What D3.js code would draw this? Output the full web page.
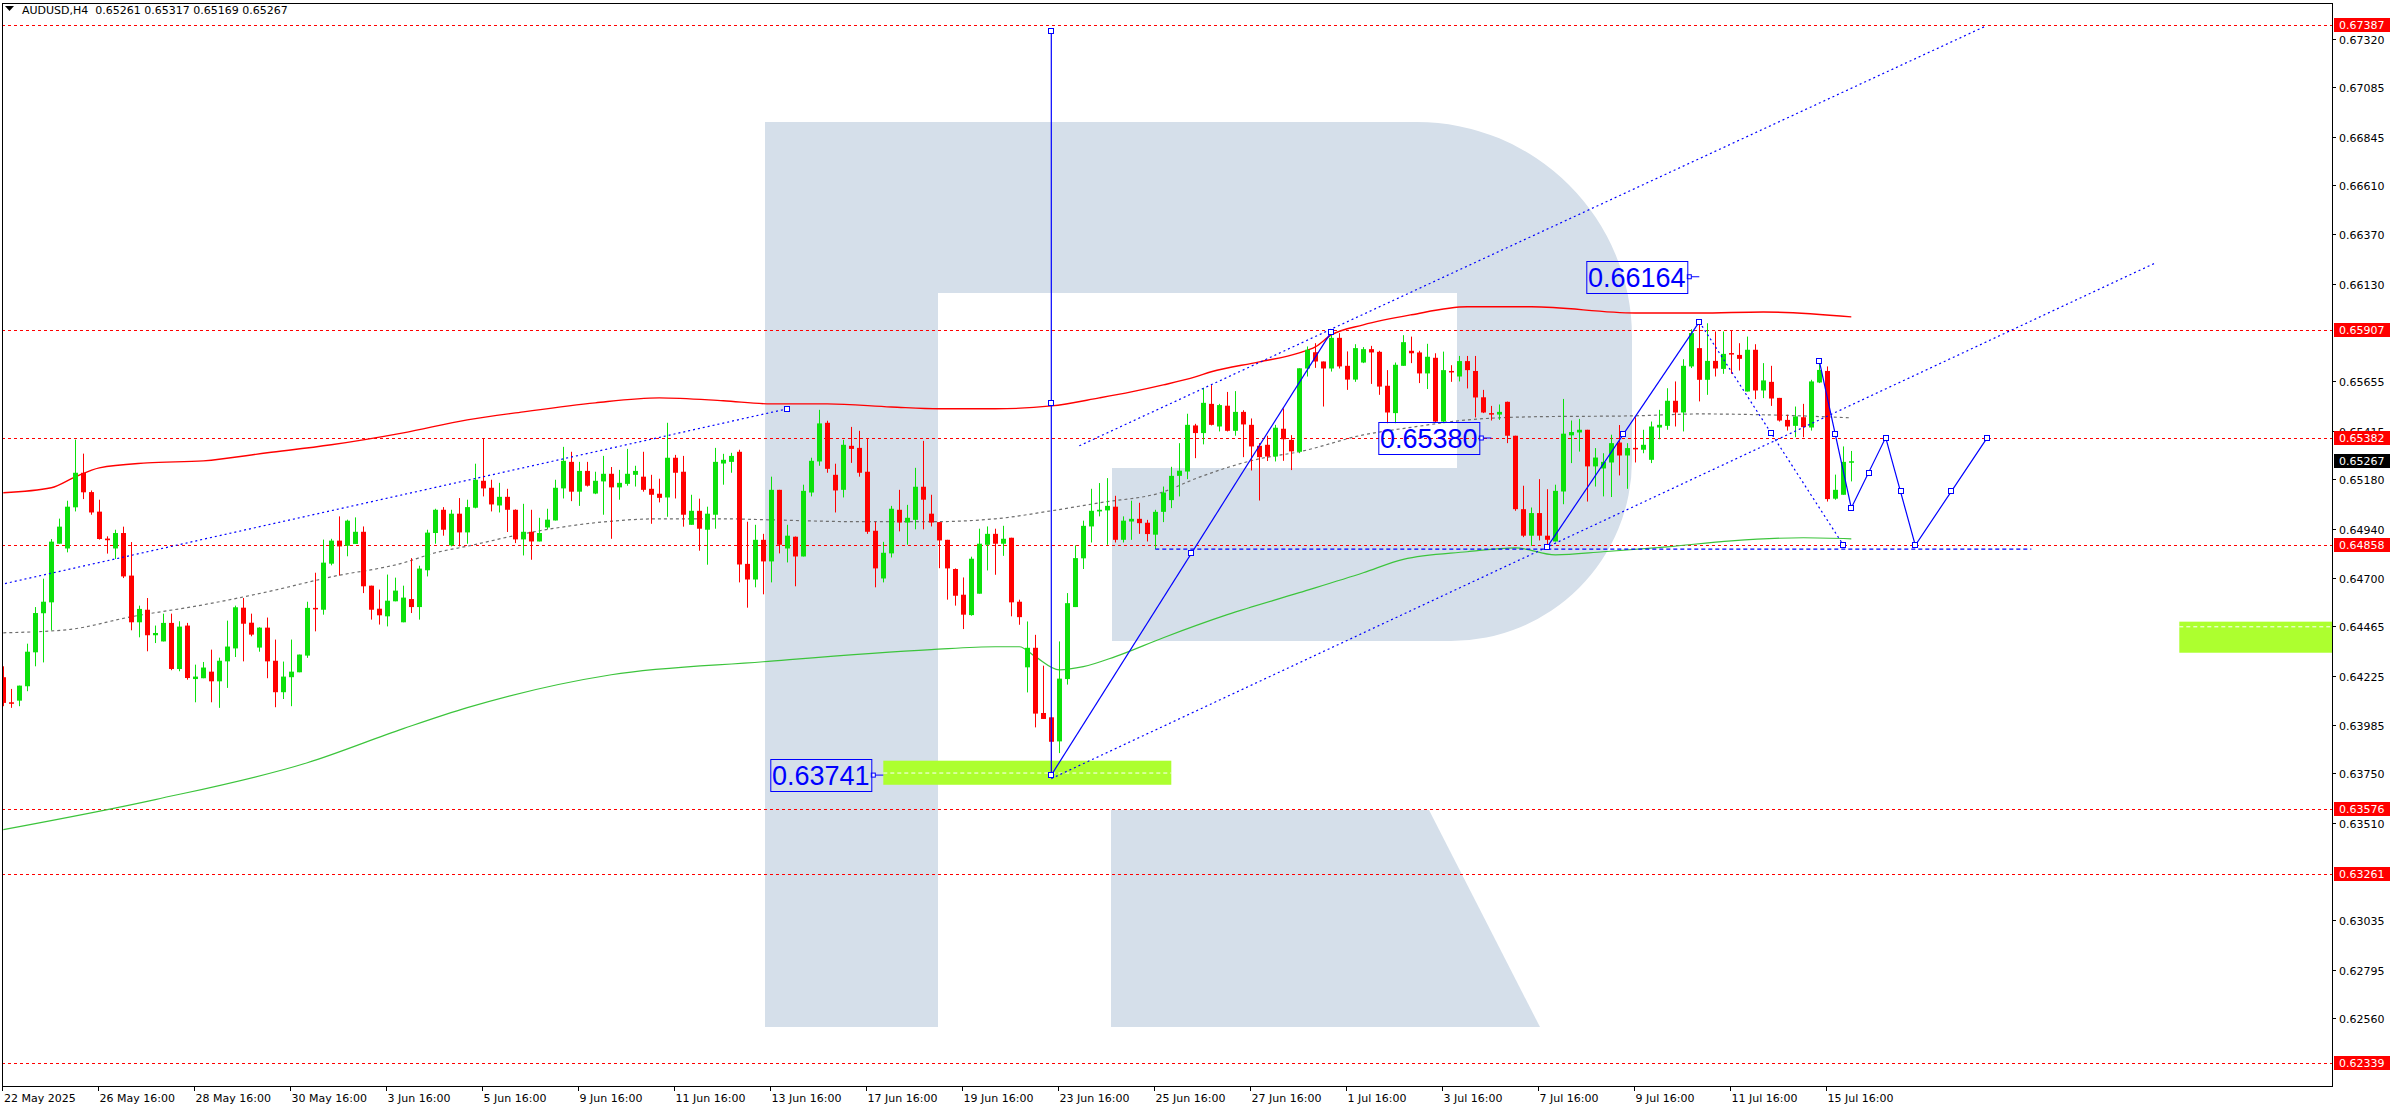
<!DOCTYPE html>
<html><head><meta charset="utf-8">
<script src="https://cdn.jsdelivr.net/npm/d3@7"></script>
<style>html,body{margin:0;padding:0;background:#fff;overflow:hidden}</style>
</head><body><svg id="c" width="2396" height="1110"></svg>
<script>
// ---------- DATA ----------
const symbolTitle = "AUDUSD,H4  0.65261 0.65317 0.65169 0.65267";
const openP=[.64217,.64095,.64103,.64173,.64338,.64528,.64581,.64866,.64843,.65043,
.65211,.65117,.65022,.64891,.64843,.64918,.64711,.64484,.64545,.64421,
.64391,.64481,.64257,.64468,.64208,.64212,.64244,.64197,.64294,.64357,
.64555,.64482,.64361,.64458,.64297,.64144,.64217,.64241,.64322,.64554,
.64545,.64769,.64881,.64856,.64865,.64924,.64662,.64550,.64513,.64586,
.64484,.64597,.64558,.64737,.64918,.65031,.64858,.65012,.64921,.65041,
.65172,.65138,.65052,.65094,.65031,.64887,.64924,.64877,.64945,.64979,
.65135,.65264,.65119,.65220,.65110,.65169,.65206,.65140,.65157,.65201,
.65192,.65133,.65109,.65091,.65284,.65216,.64958,.65026,.64934,.65007,
.65256,.65264,.65313,.64768,.64692,.64885,.64780,.65128,.64843,.64900,
.64804,.65115,.65266,.65454,.65201,.65128,.65342,.65332,.65216,.64929,
.64697,.64819,.65031,.64969,.64982,.65143,.65012,.64971,.64885,.64743,
.64618,.64519,.64623,.64861,.64914,.64866,.64895,.64584,.64265,.64360,
.64043,.64022,.63905,.64208,.64558,.64795,.64950,.65023,.65028,.65046,
.64885,.64974,.64987,.64968,.64910,.65021,.65078,.65196,.65217,.65441,
.65404,.65546,.65436,.65537,.65415,.65507,.65444,.65342,.65347,.65290,
.65425,.65371,.65313,.65718,.65797,.65752,.65718,.65867,.65731,.65664,
.65747,.65812,.65799,.65634,.65501,.65731,.65804,.65796,.65694,.65770,
.65460,.65706,.65679,.65754,.65706,.65578,.65501,.65494,.65556,.65391,
.65034,.64905,.65015,.64905,.64877,.65120,.65393,.65407,.65420,.65242,
.65232,.65261,.65358,.65295,.65332,.65323,.65274,.65431,.65439,.65561,
.65504,.65728,.65817,.65663,.65755,.65716,.65793,.65784,.65606,.65809,
.65611,.65653,.65575,.65468,.65439,.65481,.65431,.65650,.65706,.65085,
.65104,.65261];
const highP=[.64270,.64160,.64176,.64380,.64558,.64696,.64889,.64988,.65075,.65372,
.65304,.65125,.65080,.64902,.64934,.64949,.64874,.64565,.64602,.64468,
.64526,.64526,.64489,.64481,.64278,.64291,.64351,.64312,.64492,.64565,
.64602,.64526,.64460,.64507,.64400,.64293,.64400,.64327,.64584,.64725,
.64886,.64890,.64999,.64983,.64994,.64950,.64662,.64643,.64716,.64701,
.64662,.64796,.64759,.64934,.65036,.65044,.65031,.65088,.65080,.65255,
.65376,.65177,.65162,.65133,.65033,.65060,.65031,.64992,.65036,.65177,
.65337,.65313,.65264,.65264,.65216,.65293,.65239,.65225,.65327,.65245,
.65313,.65201,.65182,.65454,.65298,.65293,.65104,.65085,.65046,.65332,
.65303,.65308,.65323,.64973,.64958,.64914,.65192,.65128,.64958,.64901,
.65153,.65284,.65517,.65464,.65255,.65371,.65434,.65415,.65376,.64973,
.64875,.65050,.65128,.65055,.65235,.65366,.65104,.64971,.64885,.64746,
.64702,.64803,.64939,.64950,.64939,.64953,.64895,.64594,.64488,.64423,
.64273,.64022,.64391,.64626,.64858,.64978,.65133,.65161,.65185,.65099,
.64999,.65075,.65065,.64982,.65031,.65144,.65240,.65355,.65498,.65449,
.65624,.65637,.65546,.65604,.65608,.65515,.65475,.65355,.65391,.65444,
.65524,.65394,.65719,.65825,.65841,.65752,.65898,.65890,.65801,.65836,
.65822,.65828,.65804,.65710,.65747,.65880,.65873,.65804,.65838,.65792,
.65800,.65734,.65779,.65779,.65779,.65614,.65536,.65543,.65557,.65391,
.65148,.65042,.65180,.65131,.65153,.65570,.65465,.65473,.65420,.65331,
.65306,.65396,.65443,.65355,.65481,.65420,.65460,.65517,.65622,.65655,
.65763,.65909,.65940,.65938,.65898,.65898,.65901,.65841,.65873,.65836,
.65744,.65731,.65575,.65493,.65533,.65546,.65663,.65752,.65728,.65202,
.65339,.65317];
const lowP=[.64076,.64068,.64076,.64149,.64270,.64289,.64445,.64866,.64824,.65023,
.65083,.65007,.64886,.64818,.64792,.64699,.64445,.64411,.64343,.64383,
.64391,.64251,.64246,.64205,.64095,.64212,.64095,.64068,.64165,.64315,
.64294,.64416,.64341,.64212,.64071,.64111,.64076,.64241,.64311,.64440,
.64521,.64761,.64711,.64805,.64865,.64626,.64497,.64473,.64464,.64586,
.64484,.64529,.64497,.64707,.64866,.64905,.64853,.64853,.64866,.65038,
.65096,.65023,.65018,.64923,.64869,.64809,.64788,.64877,.64937,.64979,
.65086,.65073,.65050,.65144,.65107,.65007,.64890,.65080,.65148,.65144,
.65119,.64963,.65067,.64997,.65086,.64949,.64958,.64832,.64764,.64939,
.65153,.65211,.64678,.64555,.64654,.64620,.64678,.64819,.64775,.64659,
.64804,.65096,.65245,.65211,.65018,.65091,.65259,.65192,.64914,.64654,
.64678,.64799,.64926,.64861,.64936,.64936,.64950,.64747,.64594,.64565,
.64451,.64516,.64623,.64736,.64715,.64807,.64513,.64472,.64143,.63973,
.64014,.63741,.63848,.64181,.64558,.64743,.64872,.64999,.64861,.64872,
.64872,.64885,.64914,.64877,.64840,.64971,.65039,.65096,.65180,.65282,
.65349,.65441,.65412,.65412,.65391,.65287,.65222,.65076,.65268,.65266,
.65269,.65224,.65306,.65679,.65721,.65533,.65703,.65718,.65614,.65653,
.65744,.65643,.65590,.65452,.65452,.65731,.65744,.65647,.65618,.65455,
.65452,.65653,.65655,.65621,.65480,.65501,.65465,.65468,.65355,.65026,
.64898,.64856,.64882,.64850,.64877,.65058,.65258,.65314,.65071,.65144,
.65096,.65093,.65198,.65133,.65261,.65306,.65258,.65374,.65420,.65436,
.65412,.65720,.65558,.65590,.65679,.65692,.65692,.65708,.65606,.65569,
.65574,.65536,.65460,.65416,.65384,.65384,.65416,.65647,.65071,.65080,
.65104,.65169];
const closeP=[.64092,.64090,.64176,.64341,.64529,.64584,.64876,.64949,.65046,.65211,
.65116,.65018,.64889,.64883,.64918,.64707,.64484,.64549,.64421,.64432,
.64481,.64257,.64463,.64213,.64220,.64264,.64197,.64297,.64366,.64557,
.64477,.64424,.64458,.64294,.64144,.64220,.64244,.64327,.64554,.64547,
.64774,.64881,.64853,.64978,.64924,.64659,.64545,.64518,.64589,.64638,
.64604,.64558,.64745,.64920,.65031,.64934,.65012,.64921,.65044,.65177,
.65135,.65057,.65094,.65031,.64887,.64924,.64877,.64918,.64983,.65138,
.65269,.65119,.65220,.65148,.65172,.65206,.65140,.65162,.65206,.65220,
.65128,.65104,.65089,.65284,.65211,.65007,.65026,.64939,.65012,.65264,
.65274,.65293,.64765,.64692,.64885,.64780,.65128,.64861,.64905,.64804,
.65123,.65269,.65451,.65230,.65125,.65347,.65327,.65211,.64924,.64746,
.64822,.65036,.64969,.64992,.65143,.65080,.64969,.64882,.64746,.64613,
.64521,.64793,.64866,.64914,.64866,.64890,.64581,.64509,.64360,.64040,
.64014,.63903,.64210,.64577,.64796,.64953,.65026,.65031,.65050,.64885,
.64978,.64987,.64966,.64913,.65021,.65115,.65196,.65221,.65444,.65404,
.65551,.65444,.65540,.65415,.65507,.65446,.65339,.65287,.65290,.65430,
.65374,.65315,.65719,.65809,.65752,.65718,.65867,.65728,.65664,.65817,
.65812,.65796,.65630,.65504,.65736,.65846,.65792,.65694,.65775,.65460,
.65710,.65700,.65754,.65710,.65577,.65504,.65496,.65507,.65391,.65034,
.64905,.65015,.64905,.64885,.65123,.65401,.65409,.65420,.65242,.65285,
.65264,.65355,.65295,.65331,.65326,.65347,.65436,.65444,.65561,.65504,
.65731,.65890,.65663,.65755,.65718,.65789,.65786,.65765,.65809,.65611,
.65660,.65572,.65465,.65436,.65485,.65433,.65655,.65711,.65083,.65128,
.65264,.65267];

// moving averages (bar index, price)
const redMaIdx=[0,6,9,12,18,25,33,41,50,58,65,74,82,90,96,103,111,117,124,131,137,141,145,149,151,157,162,164,166,170,176,183,191,204,212,220,231];
const redMaVal=[.65114,.65138,.65191,.65235,.65259,.65269,.65308,.65347,.65405,.65468,.65507,.65551,.65575,.65561,.65546,.65546,.65531,.65522,.65522,.65536,.65575,.65604,.65638,.65677,.65702,.65750,.65794,.65823,.65881,.65930,.65979,.66018,.66018,.65988,.65988,.65993,.65969];
const grayMaIdx=[0,8,16,25,33,41,50,54,58,65,74,82,90,96,107,116,124,131,137,145,149,157,162,170,176,183,191,204,212,220,231];
const grayMaVal=[.64433,.64448,.64511,.64569,.64632,.64705,.64773,.64822,.64854,.64914,.64968,.64987,.64987,.64982,.64973,.64973,.64987,.65026,.65065,.65118,.65182,.65279,.65313,.65395,.65432,.65468,.65483,.65488,.65497,.65493,.65478];
const greenMaIdx=[0,19,38,50,58,76,95,116,124,127,129,132,135,139,145,153,162,170,175,183,189,194,200,208,216,225,231];
const greenMaVal=[.63476,.63622,.63801,.63967,.64069,.64229,.64292,.64351,.64365,.64365,.64317,.64253,.64268,.64317,.64409,.64521,.64628,.64725,.64790,.64827,.64846,.64812,.64827,.64851,.64880,.64895,.64890];

// horizontal levels
const levelValues=[0.67387,0.65907,0.65382,0.64858,0.63576,0.63261,0.62339];
const currentPrice=0.65267;
// axis ticks
const priceTicks=[0.67320,0.67085,0.66845,0.66610,0.66370,0.66130,0.65655,0.65415,0.65180,0.64940,0.64700,0.64465,0.64225,0.63985,0.63750,0.63510,0.63035,0.62795,0.62560];
const dateLabels=["22 May 2025","26 May 16:00","28 May 16:00","30 May 16:00","3 Jun 16:00","5 Jun 16:00","9 Jun 16:00","11 Jun 16:00","13 Jun 16:00","17 Jun 16:00","19 Jun 16:00","23 Jun 16:00","25 Jun 16:00","27 Jun 16:00","1 Jul 16:00","3 Jul 16:00","7 Jul 16:00","9 Jul 16:00","11 Jul 16:00","15 Jul 16:00"];
const barsPerLabel=12;

// target zones (bar index from/to, price top/bottom/mid)
const zoneFrom=[110,272], zoneTo=[146,300];
const zoneTop=[0.63811,0.64487], zoneBottom=[0.63694,0.64336], zoneMid=[0.63751,0.64462];

// analysis drawings (bar index, price)
const vertLine=[[131,0.63741],[131,0.67359]];
const waveUp1=[[131,0.63741],[166,0.65896]];
const waveUp2=[[193,0.64851],[212,0.65945]];
const forecast=[[227,0.65755],[231,0.65040],[235.3,0.65382],[239,0.64858],[248,0.65382]];
const chanLeft=[[-0.4,0.64667],[98,0.65522]];
const chanTop=[[134.5,0.65342],[247.8,0.67383]];
const chanBottom=[[131,0.63724],[269,0.66231]];
const dropLine=[[212,0.65945],[230,0.64860]];
const supportLine=[[144,0.64840],[253.5,0.64840]];
const bigLabelText=["0.66164","0.65380","0.63741"];
const bigLabelIdx=[212,186,110];
const bigLabelVal=[0.66164,0.65380,0.63741];

// ---------- DRAW ----------
const W=2396,H=1110, PL=2, PR=2332, PT=3, PB=1086;
const svg=d3.select('#c');
const x=d3.scaleLinear().domain([0,1]).range([3.3,11.3]);
const y=d3.scaleLinear().domain([0.67320,0.62560]).range([39,1018]);
const UP='#0be00b', DN='#ff0000', BLUE='#0000ff';
const font='"DejaVu Sans", Verdana, sans-serif';

svg.append('rect').attr('width',W).attr('height',H).attr('fill','#fff');
svg.append('defs').append('clipPath').attr('id','plot').append('rect')
  .attr('x',PL).attr('y',PT).attr('width',PR-PL).attr('height',PB-PT);
const g=svg.append('g').attr('clip-path','url(#plot)');

// watermark logo
const wm=g.append('g').attr('fill','#d5dfea');
wm.append('rect').attr('x',765).attr('y',122).attr('width',173).attr('height',905);
wm.append('path').attr('d','M938,122 L1417,122 A215,215 0 0 1 1632,337 L1632,460 A181,181 0 0 1 1451,641 L1112,641 L1112,468 L1457,468 L1457,293 L938,293 Z');
wm.append('path').attr('d','M1111,810 L1429,810 L1540,1027 L1111,1027 Z');

// zones
zoneFrom.forEach((f,k)=>{
  g.append('rect').attr('x',x(f)).attr('y',y(zoneTop[k]))
   .attr('width',x(zoneTo[k])-x(f)).attr('height',y(zoneBottom[k])-y(zoneTop[k]))
   .attr('fill','#adff2f');
  g.append('line').attr('x1',x(f)).attr('x2',x(zoneTo[k])).attr('y1',y(zoneMid[k])).attr('y2',y(zoneMid[k]))
   .attr('stroke','#fff').attr('stroke-dasharray','4,3');
});

// levels
levelValues.forEach(v=>{
  const yy=Math.round(y(v))+0.5;
  g.append('line').attr('x1',PL).attr('x2',PR).attr('y1',yy).attr('y2',yy)
   .attr('stroke','#ff0000').attr('stroke-dasharray','3,3');
});

// MAs
const lineGen=d3.line().x(d=>x(d[0])).y(d=>y(d[1])).curve(d3.curveMonotoneX);
const zipPts=(a,b)=>a.map((v,i)=>[v,b[i]]);
g.append('path').attr('d',lineGen(zipPts(greenMaIdx,greenMaVal))).attr('fill','none').attr('stroke','#3cc43c').attr('stroke-width',1.2);
g.append('path').attr('d',lineGen(zipPts(grayMaIdx,grayMaVal))).attr('fill','none').attr('stroke','#6e6e6e').attr('stroke-width',1.2).attr('stroke-dasharray','3,3');
g.append('path').attr('d',lineGen(zipPts(redMaIdx,redMaVal))).attr('fill','none').attr('stroke','#ff0000').attr('stroke-width',1.4);

// candles
const n=Math.min(openP.length,highP.length,lowP.length,closeP.length);
const cg=g.append('g');
for(let i=0;i<n;i++){
  const o=openP[i],h=highP[i],l=lowP[i],c=closeP[i];
  const col=c>=o?UP:DN;
  const xc=Math.round(x(i));
  cg.append('line').attr('x1',xc+0.5).attr('x2',xc+0.5).attr('y1',y(h)).attr('y2',y(l)).attr('stroke',col).attr('stroke-width',1);
  const top=y(Math.max(o,c)), bot=y(Math.min(o,c));
  cg.append('rect').attr('x',xc-2).attr('y',top).attr('width',5).attr('height',Math.max(1.5,bot-top)).attr('fill',col);
}

// drawings
const straight=d3.line().x(d=>x(d[0])).y(d=>y(d[1]));
const dg=g.append('g').attr('fill','none').attr('stroke',BLUE);
[chanLeft,chanTop,chanBottom,dropLine].forEach(p=>dg.append('path').attr('d',straight(p)).attr('stroke-width',1.2).attr('stroke-dasharray','2,3'));
dg.append('path').attr('d',straight(supportLine)).attr('stroke-width',1.2).attr('stroke-dasharray','4,3');
[vertLine,waveUp1,waveUp2,forecast].forEach(p=>dg.append('path').attr('d',straight(p)).attr('stroke-width',1.2));
function sq(px,py){dg.append('rect').attr('x',Math.round(px)-2.5).attr('y',Math.round(py)-2.5).attr('width',5).attr('height',5).attr('fill','#fff').attr('stroke',BLUE);}
function squaresFor(p){
  for(let k=0;k<p.length;k++){
    sq(x(p[k][0]),y(p[k][1]));
    if(k<p.length-1) sq((x(p[k][0])+x(p[k+1][0]))/2,(y(p[k][1])+y(p[k+1][1]))/2);
  }
}
[vertLine,waveUp1,waveUp2,forecast].forEach(squaresFor);
sq((x(dropLine[0][0])+x(dropLine[1][0]))/2,(y(dropLine[0][1])+y(dropLine[1][1]))/2);
sq(x(dropLine[1][0]),y(dropLine[1][1]));
sq(x(chanLeft[1][0]),y(chanLeft[1][1]));

// big price labels
bigLabelText.forEach((t,k)=>{
  const ax=x(bigLabelIdx[k]), ay=y(bigLabelVal[k]);
  const bx1=ax-12, bx0=bx1-101;
  g.append('line').attr('x1',bx1).attr('x2',ax).attr('y1',ay).attr('y2',ay).attr('stroke',BLUE);
  g.append('rect').attr('x',bx1).attr('y',ay-2).attr('width',4).attr('height',4).attr('fill','#fff').attr('stroke',BLUE);
  g.append('rect').attr('x',bx0+0.5).attr('y',Math.round(ay-16)+0.5).attr('width',101).attr('height',32).attr('fill','none').attr('stroke',BLUE);
  g.append('text').attr('x',(bx0+bx1)/2).attr('y',ay+10).attr('text-anchor','middle')
   .attr('font-family','"Liberation Sans", Arial, sans-serif').attr('font-size',27).attr('fill',BLUE).text(t);
});

// frame
svg.append('rect').attr('x',PL+0.5).attr('y',PT+0.5).attr('width',PR-PL).attr('height',PB-PT).attr('fill','none').attr('stroke','#000');

// right axis
const ax=svg.append('g').attr('font-family',font).attr('font-size',11);
priceTicks.forEach(v=>{
  const yy=Math.round(y(v))+0.5;
  ax.append('line').attr('x1',PR).attr('x2',PR+4).attr('y1',yy).attr('y2',yy).attr('stroke','#000');
  ax.append('text').attr('x',PR+7).attr('y',yy+4).attr('fill','#000').text(v.toFixed(5));
});
function priceTag(v,bg){
  const yy=Math.round(y(v));
  ax.append('rect').attr('x',PR+2).attr('y',yy-7).attr('width',56).attr('height',14).attr('fill',bg);
  ax.append('text').attr('x',PR+7).attr('y',yy+4).attr('fill','#fff').text(v.toFixed(5));
}
levelValues.forEach(v=>priceTag(v,'#ff0000'));
priceTag(currentPrice,'#000');

// bottom axis
dateLabels.forEach((t,k)=>{
  const xx=Math.round(x(k*barsPerLabel))-0.5;
  ax.append('line').attr('x1',xx).attr('x2',xx).attr('y1',PB).attr('y2',PB+5).attr('stroke','#000');
  ax.append('text').attr('x',k===0?4:xx+1).attr('y',PB+16).attr('fill','#000').text(t);
});

// title
svg.append('path').attr('d','M5,6 L14,6 L9.5,11 Z').attr('fill','#000');
svg.append('text').attr('x',22).attr('y',14).attr('font-family',font).attr('font-size',11).attr('fill','#000').attr('xml:space','preserve').style('white-space','pre').text(symbolTitle);
</script>
</body></html>
